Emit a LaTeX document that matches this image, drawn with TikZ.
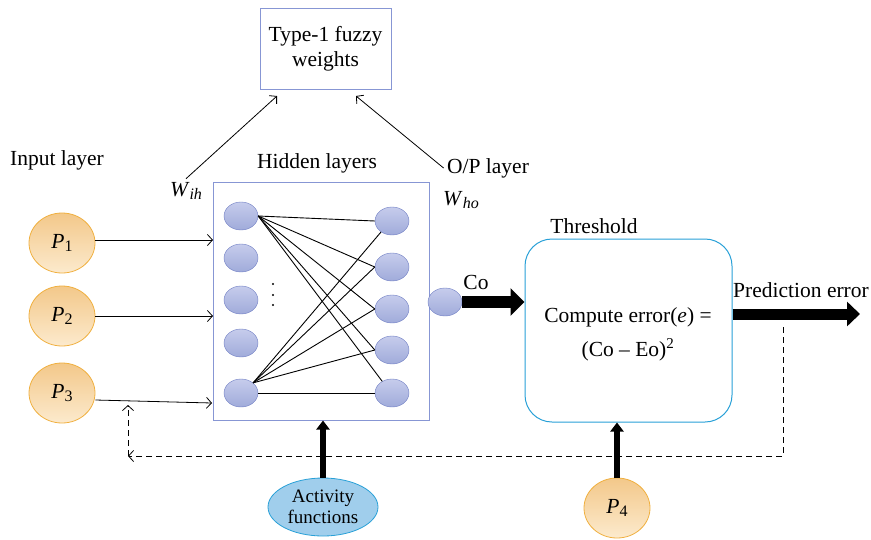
\documentclass[tikz,border=0pt]{standalone}
\usepackage{fontspec}
\setmainfont{Liberation Serif}
\usetikzlibrary{arrows.meta,shapes.geometric}
\definecolor{boxc}{RGB}{135,150,212}
\definecolor{neub}{RGB}{110,125,195}
\definecolor{neutop}{RGB}{198,204,236}
\definecolor{neubot}{RGB}{160,171,218}
\definecolor{pbord}{RGB}{240,176,64}
\definecolor{ptop}{RGB}{243,200,138}
\definecolor{pbot}{RGB}{252,234,205}
\definecolor{thc}{RGB}{40,160,215}
\definecolor{actfill}{RGB}{160,206,236}
\newcommand{\mysub}[2]{\textit{#1}\raisebox{-0.35ex}{\fontsize{16}{18}\selectfont #2}}
\begin{document}
\begin{tikzpicture}[x=1pt,y=-1pt,font=\fontsize{21.5}{25}\selectfont,
  neuron/.style={ellipse,draw=neub,top color=neutop,bottom color=neubot,minimum width=34,minimum height=28,inner sep=0pt},
  pnode/.style={ellipse,draw=pbord,line width=0.8pt,top color=ptop,bottom color=pbot,minimum width=66,minimum height=60,inner sep=0pt},
  thin/.style={line width=0.8pt,-{Straight Barb[length=5pt,width=11pt]}},
  wire/.style={line width=0.9pt},
  dotn/.style={circle,fill=black,inner sep=0pt,minimum size=2.4pt},
  fat/.style={line width=12pt,-{Triangle[length=14pt,width=27pt]}},
  midfat/.style={line width=6pt,-{Triangle[length=9pt,width=13pt]}}]
\useasboundingbox (0,0) rectangle (871,539);

% fuzzy weights box
\node[draw=boxc,line width=1pt,minimum width=131,minimum height=81,align=center] (fw) at (325.5,48.5) {Type-1 fuzzy\\weights};
\coordinate (fa) at (277,96);
\coordinate (fb) at (356,96);

% labels
\node (inl) at (57,160) {Input layer};
\node (hl) at (317,163) {Hidden layers};
\node (op) at (488,168) {O/P layer};
\node (wih) at (186,191) {\mysub{W}{\textit{ih}}};
\node (who) at (461,200) {\mysub{W}{\textit{ho}}};

\draw[thin] (wih.north) -- (fa);
\draw[thin] (op.west) -- (fb);

% hidden box
\node[draw=boxc,line width=1pt,minimum width=216,minimum height=238] (hb) at (321,301) {};

% neurons
\node[neuron] (L1) at (241,216) {};
\node[neuron] (L2) at (241,258) {};
\node[neuron] (L3) at (241,300) {};
\node[neuron] (L4) at (241,343) {};
\node[neuron] (L5) at (241,393) {};
\node[neuron] (R1) at (392,221) {};
\node[neuron] (R2) at (392,267) {};
\node[neuron] (R3) at (392,309) {};
\node[neuron] (R4) at (392,350) {};
\node[neuron] (R5) at (392,393) {};
\node[dotn] (dt1) at (273,284) {};
\node[dotn] (dt2) at (273,295) {};
\node[dotn] (dt3) at (273,305) {};

\foreach \r in {R1,R2,R3,R4} \draw[wire] (L1.east) -- (\r.west);
\draw[wire] (L1.east) -- (R5.130);
\draw[wire] (L5.40) -- (R1.225);
\foreach \r in {R2,R3,R4} \draw[wire] (L5.40) -- (\r.west);
\draw[wire] (L5.east) -- (R5.west);

% inputs
\node[pnode] (P1) at (62,243) {\mysub{P}{1}};
\node[pnode] (P2) at (62,316) {\mysub{P}{2}};
\node[pnode] (P3) at (62,393) {\mysub{P}{3}};
\coordinate (i1) at (213,240);
\coordinate (i2) at (213,316);
\coordinate (i3) at (212,403);
\draw[thin] (P1.east |- i1) -- (i1);
\draw[thin] (P2.east) -- (i2);
\draw[thin] ([yshift=-7pt]P3.east) -- (i3);

% output neuron
\node[neuron] (co) at (445,302) {};
\node (col) at (476,282) {Co};

% threshold
\node[draw=thc,line width=1pt,rounded corners=27pt,minimum width=207,minimum height=183] (th) at (628.5,330.5) {};
\node (thl) at (594,226) {Threshold};
\node (ce1) at (628,317) {Compute error(\textit{e}) =};
\node (ce2) at (628,350) {(Co – Eo)\textsuperscript{2}};

\draw[fat] (co.east) -- (th.west |- co.east);

\coordinate (pe) at (860,314);
\node (pel) at (801,290) {Prediction error};
\draw[line width=11pt,-{Triangle[length=13pt,width=24pt]}] (th.east |- pe) -- (pe);

% dashed feedback
\coordinate (d1) at (783,327);
\coordinate (d2) at (783,456);
\coordinate (d3) at (128,456);
\coordinate (d4) at (128,405);
\draw[dash pattern=on 6pt off 4pt,line width=0.8pt,-{Straight Barb[length=5pt,width=11pt]}] (d1) -- (d2) -- (d3);
\draw[dash pattern=on 6pt off 4pt,line width=0.8pt,-{Straight Barb[length=5pt,width=11pt]}] (d3) -- (d4);

% activity functions
\node[ellipse,draw=thc,line width=0.8pt,fill=actfill,minimum width=110,minimum height=58,inner sep=0pt,align=center,font=\fontsize{19}{21}\selectfont] (act) at (323,507) {Activity\\functions};
\draw[midfat] (act.north) -- (act.north |- hb.south);

% P4
\node[pnode] (P4) at (617,508) {\mysub{P}{4}};
\draw[midfat] (P4.north) -- (P4.north |- th.south);
\end{tikzpicture}
\end{document}
